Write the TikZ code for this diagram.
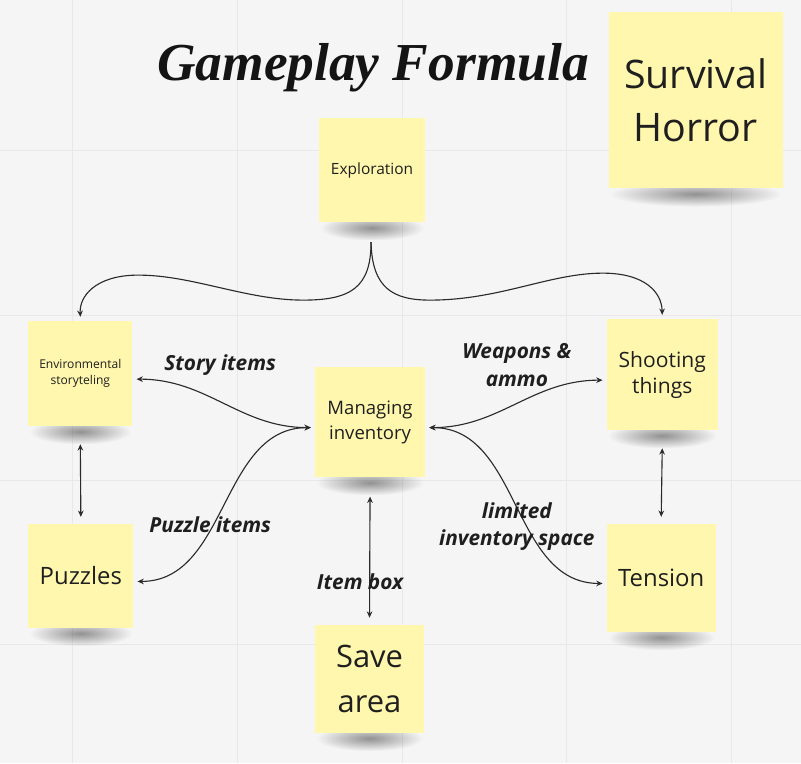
\documentclass[tikz,border=0pt]{standalone}
\usepackage{fontspec}
\setmainfont{Open Sans}
\newfontfamily\titlefont{Liberation Serif}
\usetikzlibrary{arrows.meta, positioning, fadings, backgrounds, calc}
\definecolor{notebg}{HTML}{FFF7AE}
\definecolor{boardbg}{HTML}{F5F5F5}
\definecolor{gridline}{HTML}{E8E8E8}
\definecolor{ink}{HTML}{2B2B2B}
\tikzfading[name=softblob, inner color=transparent!0, outer color=transparent!100]
\tikzset{
  sticky/.style={rectangle, fill=notebg, align=center, text=black!88, inner sep=2pt, outer sep=3pt},
  note_shadow/.style={fill=black!75, opacity=0.55, path fading=softblob},
  link/.style={draw=ink, line width=0.8pt, >={Stealth[length=4.5pt,width=4pt]}},
  edge_label/.style={font=\fontsize{14.8}{19.5}\selectfont\bfseries\itshape, text=black!88, align=center},
  title_style/.style={font=\titlefont\fontsize{38}{44}\selectfont\bfseries\itshape, text=black!92},
  grid_style/.style={draw=gridline, line width=0.6pt}
}
\pgfdeclarelayer{boardlayer}
\pgfsetlayers{boardlayer, background, main}

\begin{document}
\begin{tikzpicture}[x=0.025cm, y=-0.025cm]
  % --- Board ---
  \begin{pgfonlayer}{boardlayer}
    \fill[boardbg] (0,0) rectangle (801,763);
    \foreach \gx in {72,237,402,567,732} \draw[grid_style] (\gx,0) -- (\gx,763);
    \foreach \gy in {150,315,480,645} \draw[grid_style] (0,\gy) -- (801,\gy);
  \end{pgfonlayer}
  \useasboundingbox (0,0) rectangle (801,763);

  % --- Title ---
  \node[title_style, anchor=base] (title) at (373,80) {Gameplay Formula};

  % --- Sticky notes ---
  \node[sticky, minimum width=4.35cm, minimum height=4.4cm, font=\fontsize{28}{38}\selectfont] (genre) at (696,100) {Survival\\Horror};
  \node[sticky, minimum width=2.65cm, minimum height=2.6cm, font=\fontsize{11}{14}\selectfont] (explore) at (372,170) {Exploration};
  \node[sticky, minimum width=2.6cm, minimum height=2.625cm, font=\fontsize{8.6}{11.4}\selectfont] (env) at (80,373.5) {Environmental\\storyteling};
  \node[sticky, minimum width=2.775cm, minimum height=2.775cm, font=\fontsize{15}{18.5}\selectfont] (shoot) at (662.5,374.5) {Shooting\\things};
  \node[sticky, minimum width=2.75cm, minimum height=2.75cm, font=\fontsize{13.2}{17.8}\selectfont] (manage) at (370,422) {Managing\\inventory};
  \node[sticky, minimum width=2.625cm, minimum height=2.6cm, font=\fontsize{17}{20}\selectfont] (puzzles) at (80.5,576) {Puzzles};
  \node[sticky, minimum width=2.725cm, minimum height=2.7cm, font=\fontsize{17}{20}\selectfont] (tension) at (661.5,578) {Tension};
  \node[sticky, minimum width=2.725cm, minimum height=2.7cm, font=\fontsize{22}{32}\selectfont] (save) at (369.5,679) {Save\\area};

  % --- Soft shadows under the notes ---
  \begin{scope}[on background layer]
    \foreach \n in {genre, explore, env, shoot, manage, puzzles, tension, save}
      \fill[note_shadow] ([xshift=4pt, yshift=8pt]\n.south west) rectangle ([xshift=-4pt, yshift=-10pt]\n.south east);
  \end{scope}

  % --- Anchor points a bit below centre ---
  \coordinate (split) at (371,242);
  \coordinate (mw) at ([yshift=-4pt]manage.west);
  \coordinate (me) at ([yshift=-4pt]manage.east);

  % --- Brace from exploration ---
  \draw[link, ->] (split) .. controls (371,288) and (350,300) .. (303,300)
    .. controls (245,300) and (190,274) .. (135,275)
    .. controls (95,276) and (79,296) .. (env.north);
  \draw[link, ->] (split) .. controls (372,288) and (393,300) .. (430,300)
    .. controls (500,300) and (550,273) .. (603,273)
    .. controls (645,273) and (662,292) .. (shoot.north);

  % --- Inventory connections ---
  \draw[link, <->] ([yshift=-4pt]env.east) to[out=0, in=180] (mw);
  \draw[link, <->] ([yshift=-4pt]puzzles.east) to[out=0, in=180] (mw);
  \draw[link, <->] (me) to[out=0, in=180] ([yshift=-4pt]shoot.west);
  \draw[link, <->] (me) to[out=0, in=180] ([yshift=-4pt]tension.west);
  \draw[link, <->] ([yshift=-11pt]manage.south) -- ([yshift=2pt]save.north);

  % --- Side links ---
  \draw[link, <->] ([yshift=-10pt]env.south) -- ([yshift=2pt]puzzles.north);
  \draw[link, <->] ([yshift=-10pt]shoot.south) -- ([yshift=2pt]tension.north);

  % --- Labels ---
  \node[edge_label] (lstory) at (220,365) {Story items};
  \node[edge_label] (lweapons) at (517,365) {Weapons \&\\ammo};
  \node[edge_label] (lpuzzle) at (210,525) {Puzzle items};
  \node[edge_label] (llimited) at (517,527) {limited\\inventory space};
  \node[edge_label] (lbox) at (360,582) {Item box};
\end{tikzpicture}
\end{document}
